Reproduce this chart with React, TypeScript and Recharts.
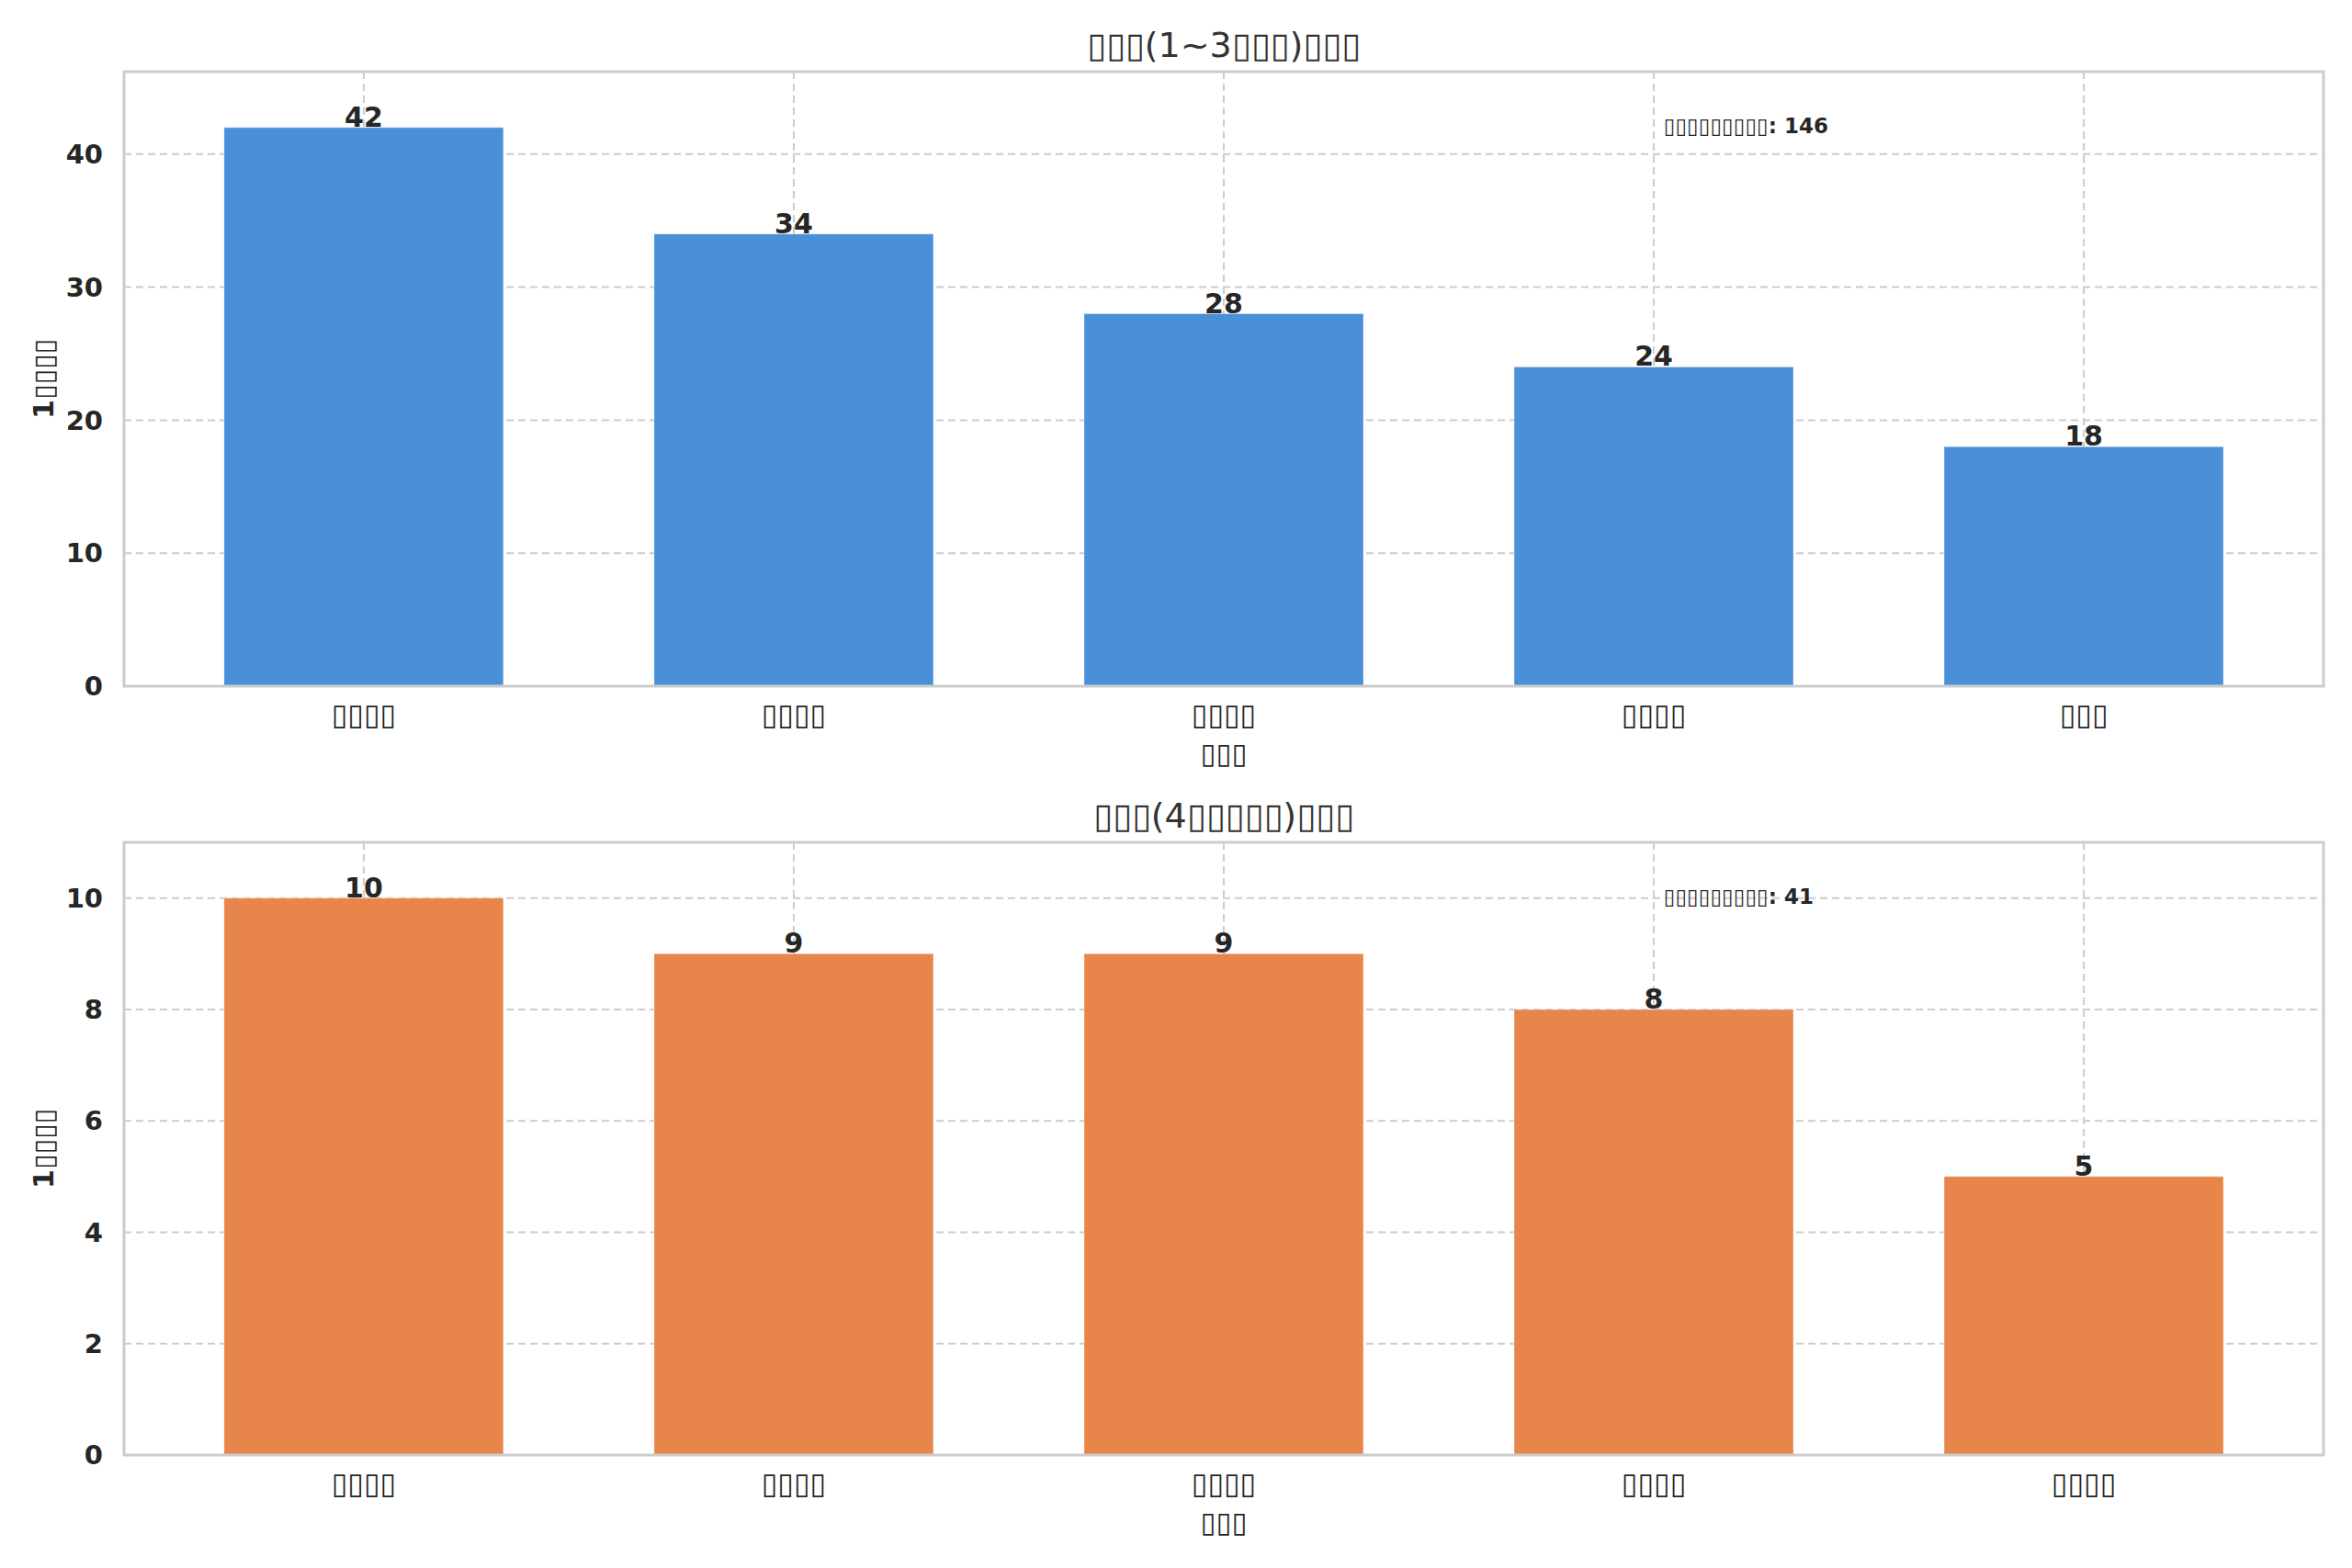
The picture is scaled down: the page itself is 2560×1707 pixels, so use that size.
import { BarChart, Bar, XAxis, YAxis, CartesianGrid, LabelList } from 'recharts'

// The reference renders its labels as missing-glyph boxes, kept here as U+25AF.
const B = '\u25AF'
const box = (n: number) => B.repeat(n)

const topLabels = [box(4), box(4), box(4), box(4), box(3)]
const topValues = [42, 34, 28, 24, 18]
const topTicks = [0, 10, 20, 30, 40]

const bottomLabels = [box(4), box(4), box(4), box(4), box(4)]
const bottomValues = [10, 9, 9, 8, 5]
const bottomTicks = [0, 2, 4, 6, 8, 10]

const topTitle = `${box(3)}(1~3${box(3)})${box(3)}`
const bottomTitle = `${box(3)}(4${box(5)})${box(3)}`
const yLabel = `1${box(4)}`
const xLabel = box(3)
const noteLabel = box(9)

const FONT = '"DejaVu Sans", sans-serif'
const TEXT = '#262626'
const GRID = '#cccccc'

const W = 2560
const PLOT_LEFT = 135
const PLOT_RIGHT = 2529
const Y_AXIS_W = 100
const X_AXIS_H = 60

interface PanelProps {
  labels: string[]
  values: number[]
  ticks: number[]
  color: string
  title: string
  top: number
  height: number
  plotTop: number
  plotBottom: number
}

function Panel({ labels, values, ticks, color, title, top, height, plotTop, plotBottom }: PanelProps) {
  const data = labels.map((label, i) => ({ key: `c${i}`, label, value: values[i] }))
  const total = values.reduce((a, b) => a + b, 0)
  const yMax = Math.max(...values) * 1.1
  const plotW = PLOT_RIGHT - PLOT_LEFT
  const pad = 0.0575 * (plotW / 5.115)
  const band = (plotW - 2 * pad) / labels.length
  const midX = (PLOT_LEFT + PLOT_RIGHT) / 2
  const midY = (plotTop + plotBottom) / 2

  return (
    <>
      <div style={{ position: 'absolute', left: 0, top, width: W, height }}>
        <BarChart
          width={W}
          height={height}
          data={data}
          margin={{
            top: plotTop,
            right: W - PLOT_RIGHT,
            bottom: height - plotBottom - X_AXIS_H,
            left: PLOT_LEFT - Y_AXIS_W
          }}
        >
          <CartesianGrid stroke={GRID} strokeWidth={2} strokeDasharray="8 5" />
          <XAxis
            dataKey="key"
            height={X_AXIS_H}
            padding={{ left: pad, right: pad }}
            tickFormatter={(v: string) => data.find(d => d.key === v)?.label ?? ''}
            tick={{ fill: TEXT, fontSize: 32, fontFamily: FONT }}
            tickSize={0}
            tickMargin={19}
            axisLine={false}
            interval={0}
          />
          <YAxis
            width={Y_AXIS_W}
            domain={[0, yMax]}
            ticks={ticks}
            tick={{ fill: TEXT, fontSize: 29, fontWeight: 'bold', fontFamily: FONT }}
            tickSize={0}
            tickMargin={23}
            axisLine={false}
            allowDataOverflow
          />
          <Bar dataKey="value" fill={color} barSize={Math.round(band * 0.65)} stroke="#ffffff" strokeOpacity={0.35} strokeWidth={1} isAnimationActive={false}>
            <LabelList dataKey="value" position="top" offset={1} fill={TEXT} fontSize={30} fontWeight="bold" fontFamily={FONT} />
          </Bar>
        </BarChart>
      </div>
      <svg style={{ position: 'absolute', left: 0, top, pointerEvents: 'none' }} width={W} height={height}>
        <rect x={PLOT_LEFT} y={plotTop} width={plotW} height={plotBottom - plotTop} fill="none" stroke={GRID} strokeWidth={3} />
        <text x={midX} y={plotTop - 29} textAnchor="middle" dominantBaseline="central" fontSize={38} fill="#333333" fontFamily={FONT}>
          {title}
        </text>
        <text x={PLOT_LEFT + 0.7 * plotW} y={plotTop + 59} dominantBaseline="central" fontSize={23} fontWeight="bold" fill={TEXT} fontFamily={FONT}>
          {`${noteLabel}: ${total}`}
        </text>
        <text x={midX} y={plotBottom + 73} textAnchor="middle" dominantBaseline="central" fontSize={31} fill={TEXT} fontFamily={FONT}>
          {xLabel}
        </text>
        <text
          x={47}
          y={midY}
          textAnchor="middle"
          dominantBaseline="central"
          fontSize={30}
          fontWeight="bold"
          fill={TEXT}
          fontFamily={FONT}
          transform={`rotate(-90 47 ${midY})`}
        >
          {yLabel}
        </text>
      </svg>
    </>
  )
}

export default function App() {
  return (
    <div style={{ position: 'absolute', left: 0, top: 0, width: W, height: 1707, background: '#ffffff', fontFamily: FONT }}>
      <Panel labels={topLabels} values={topValues} ticks={topTicks} color="#4a90d9" title={topTitle} top={0} height={853} plotTop={78} plotBottom={747} />
      <Panel labels={bottomLabels} values={bottomValues} ticks={bottomTicks} color="#e8854a" title={bottomTitle} top={853} height={854} plotTop={64} plotBottom={731} />
    </div>
  )
}
